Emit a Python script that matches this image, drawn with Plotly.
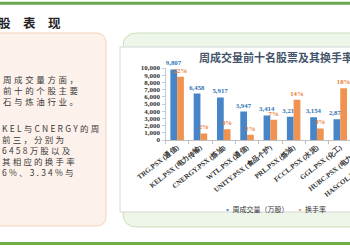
import plotly.graph_objects as go

# ---------------- data ----------------
categories = ["TRG.PSX (通信)", "KEL.PSX (电力传输)", "CNERGY.PSX (炼油)", "WTL.PSX (通信)",
              "UNITY.PSX (食品个护)", "PRL.PSX (炼油)", "FCCL.PSX (水泥)", "GGL.PSX (化工)",
              "HUBC.PSX (电力传输)", "HASCOL.PSX (石油销售)"]
volume = [9807, 6458, 5917, 3947, 3414, 3216, 3154, 2873, 2750, 2600]   # 万股
turnover = [0.22, 0.023, 0.037, 0.018, 0.07, 0.14, 0.04, 0.18, 0.01, 0.09]

series_names = ["周成交量（万股）", "换手率"]
chart_title = "周成交量前十名股票及其换手率"
slide_title = "股　表　现"
para1_lines = ["周成交量方面，", "前十的个股主要", "石与炼油行业。"]
para2_lines = ["KEL与CNERGY的周", "前三，分别为", "6458万股以及", "其相应的换手率", "6%、3.34%与"]
y_ticks = [0, 1000, 2000, 3000, 4000, 5000, 6000, 7000, 8000, 9000, 10000]

# ---------------- geometry helpers ----------------
W, H = 440, 250
BLUE = "#4785c8"
ORANGE = "#f09250"


def fx(px):
    return px / W


def fy(py):
    return 1 - py / H


def rrect(x0, y0, x1, y1, r):
    def p(x, y):
        return f"{fx(x):.5f},{fy(y):.5f}"
    return (f"M {p(x0 + r, y0)} L {p(x1 - r, y0)} Q {p(x1, y0)} {p(x1, y0 + r)} "
            f"L {p(x1, y1 - r)} Q {p(x1, y1)} {p(x1 - r, y1)} L {p(x0 + r, y1)} "
            f"Q {p(x0, y1)} {p(x0, y1 - r)} L {p(x0, y0 + r)} Q {p(x0, y0)} {p(x0 + r, y0)} Z")


def spaced(lines, ls):
    return "<br>".join(f"<span style='letter-spacing:{ls}px'>{t}</span>" for t in lines)


fig = go.Figure()

fig.add_trace(go.Bar(
    x=categories, y=volume, name=series_names[0], yaxis="y", offsetgroup="1",
    marker=dict(color=BLUE, line=dict(width=0)),
    texttemplate="%{y:,}", textposition="outside", constraintext="none", cliponaxis=False,
    textfont=dict(size=6.8, color="#2e75b6", family="Liberation Serif", weight="bold"),
    showlegend=False,
))
fig.add_trace(go.Bar(
    x=categories, y=turnover, name=series_names[1], yaxis="y2", offsetgroup="2",
    marker=dict(color=ORANGE, line=dict(width=0)),
    texttemplate="%{y:.0%}", textposition="outside", constraintext="none", cliponaxis=False,
    textfont=dict(size=6.8, color="#ed7d31", family="Liberation Serif", weight="bold"),
    showlegend=False,
))

shapes = [
    dict(type="path", path=rrect(-20, 33, 106, 226, 10), xref="paper", yref="paper",
         fillcolor="#fdf2eb", line=dict(color="#f8d2ba", width=1), layer="below"),
    dict(type="path", path=rrect(123, 33, W - 8, 227, 14), xref="paper", yref="paper",
         fillcolor="#eef6e9", line=dict(color="#c9e1b8", width=1), layer="below"),
    dict(type="rect", x0=fx(120), x1=fx(W - 5), y0=fy(212), y1=fy(47), xref="paper", yref="paper",
         fillcolor="white", line=dict(color="#d6d6d6", width=1), layer="below"),
    dict(type="line", x0=0, x1=1, y0=fy(3.2), y1=fy(3.2), xref="paper", yref="paper",
         line=dict(color="#6aa84f", width=3)),
    dict(type="line", x0=0, x1=1, y0=fy(243.5), y1=fy(243.5), xref="paper", yref="paper",
         line=dict(color="#70ad47", width=3)),
]

legend_text = (f"<span style='color:{BLUE}'>▪</span> {series_names[0]}"
               f"     <span style='color:{ORANGE}'>▪</span> {series_names[1]}")

para_font = dict(size=8.5, color="#3a3a3a", family="Noto Sans CJK SC")
annotations = [
    dict(text=chart_title, x=fx(197), y=fy(57), xref="paper", yref="paper", showarrow=False,
         xanchor="left", yanchor="middle",
         font=dict(size=11, color="#44546a", family="Noto Sans CJK SC", weight="bold")),
    dict(text=slide_title, x=fx(-4), y=fy(23), xref="paper", yref="paper", showarrow=False,
         xanchor="left", yanchor="middle",
         font=dict(size=12.5, color="#222222", family="Noto Sans CJK SC", weight="bold")),
    dict(text=legend_text, x=fx(275), y=fy(209), xref="paper", yref="paper", showarrow=False,
         xanchor="center", yanchor="middle",
         font=dict(size=7, color="#333333", family="Noto Sans CJK SC")),
    dict(text=spaced(para1_lines, 2.6), x=fx(1), y=fy(89.5), xref="paper", yref="paper",
         showarrow=False, xanchor="left", yanchor="middle", align="left", font=para_font),
    dict(text=spaced(para2_lines, 2.2), x=fx(0), y=fy(150), xref="paper", yref="paper",
         showarrow=False, xanchor="left", yanchor="middle", align="left", font=para_font),
]

fig.update_layout(
    width=W, height=H,
    margin=dict(l=0, r=0, t=0, b=0, pad=0, autoexpand=False),
    paper_bgcolor="white", plot_bgcolor="rgba(0,0,0,0)",
    barmode="group", bargap=0.42, bargroupgap=0, showlegend=False,
    shapes=shapes, annotations=annotations,
    xaxis=dict(domain=[fx(165.5), fx(398.5)], type="category", tickangle=-38, automargin=False,
               tickfont=dict(size=7, color="#333333", family="Liberation Serif", weight="bold"),
               showline=True, linecolor="#bfbfbf", ticks="outside", tickson="boundaries",
               ticklen=3, tickcolor="#bfbfbf", showgrid=False),
    yaxis=dict(domain=[fy(140), fy(68)], range=[0, 10000], tickvals=y_ticks, tickformat=",",
               automargin=False,
               tickfont=dict(size=7, color="#333333", family="Liberation Serif", weight="bold"),
               showline=True, linecolor="#bfcadb", ticks="outside", ticklen=3, tickcolor="#bfcadb",
               showgrid=False, zeroline=False),
    yaxis2=dict(overlaying="y", side="right", range=[0, 0.25], visible=False, automargin=False),
)

fig.write_html("out.html",
               post_script="document.documentElement.style.overflow='hidden';document.body.style.overflow='hidden';")
